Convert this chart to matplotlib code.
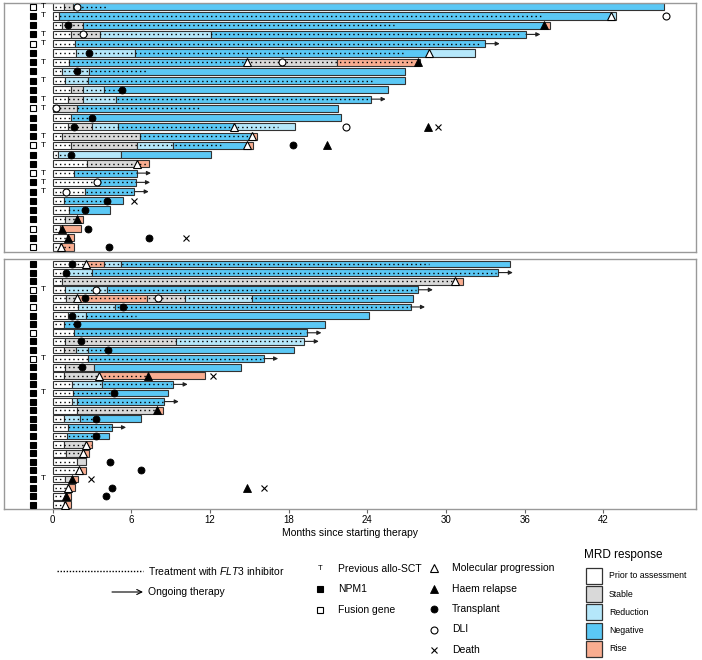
import matplotlib
matplotlib.use("Agg")
import matplotlib.pyplot as plt
from matplotlib.patches import Rectangle

plt.rcParams['font.family'] = ['Liberation Sans', 'DejaVu Sans']
plt.rcParams['mathtext.fontset'] = 'custom'
plt.rcParams['mathtext.rm'] = 'Liberation Sans'
plt.rcParams['mathtext.it'] = 'Liberation Sans:italic'

# MRD status codes: P prior, S stable, R reduction, N negative, U rise
mrd_colors = {'P': '#ffffff', 'S': '#d9d9d9', 'R': '#b5e7fa', 'N': '#5bc8f5', 'U': '#f9ad90'}
mrd_names = ['Prior to assessment', 'Stable', 'Reduction', 'Negative', 'Rise']

# ---- top panel ----
top_status = [
    "PSN", "PNR", "PSNU", "PSRN", "PN", "PRNR", "PNSU", "PRN", "PRN", "PSRN",
    "PSRN", "SN", "PN", "PSRNR", "PSNU", "PSRNU", "PRN", "PSU", "PN", "PN",
    "PN", "PN", "PN", "PSU", "PU", "PU", "PU",
]
top_ends = [
    [0.86, 1.57, 46.6], [0.5, 42.6, 43.0], [0.68, 2.29, 37.5, 37.9], [1.37, 3.6, 12.1, 36.1],
    [1.7, 33.0], [1.75, 6.3, 28.7, 32.2], [1.24, 14.8, 21.7, 28.0], [0.68, 2.77, 26.9],
    [0.94, 2.72, 26.9], [1.37, 2.34, 3.94, 25.6], [1.19, 2.34, 4.8, 24.3], [1.88, 21.8],
    [1.4, 22.0], [1.14, 2.97, 5.0, 13.8, 18.5], [0.68, 6.66, 15.1, 15.6],
    [1.4, 6.45, 9.15, 14.85, 15.3], [0.43, 5.18, 12.1], [2.59, 6.45, 7.37], [1.62, 6.4],
    [3.4, 6.33], [2.46, 6.23], [0.89, 5.39], [1.27, 4.37], [0.94, 1.88, 2.29],
    [0.56, 2.14], [1.06, 1.62], [0.56, 1.62],
]
top_flt3 = [4.2, 37.4, 26.0, 35.6, 32.7, 26.7, 27.6, 7.2, 24.4, 5.26, 24.2, 11.2, 2.97,
            17.2, 15.05, 12.9, 1.06, 7.2, 6.3, 6.2, 6.1, 4.17, 2.4, 2.2, 0.5, 1.0, 1.5]
top_arrow = [3, 4, 10, 18, 19, 20]
top_npm1 = [0, 1, 1, 1, 0, 1, 1, 1, 1, 1, 1, 0, 1, 1, 1, 0, 1, 1, 0, 1, 1, 1, 1, 1, 0, 1, 0]
top_allo = [1, 1, 0, 1, 1, 0, 1, 0, 1, 0, 1, 1, 0, 0, 1, 1, 0, 0, 1, 1, 1, 0, 0, 0, 0, 0, 0]
top_events = [
    (0, 'dli', 1.83), (1, 'mp', 42.6), (1, 'dli', 46.8), (2, 'tx', 1.19), (2, 'hr', 37.5),
    (3, 'dli', 2.34), (5, 'tx', 2.77), (5, 'mp', 28.7), (6, 'mp', 14.8), (6, 'dli', 17.5),
    (6, 'hr', 27.9), (7, 'tx', 1.83), (9, 'tx', 5.26), (11, 'dli', 0.25), (12, 'tx', 2.97),
    (13, 'tx', 1.62), (13, 'mp', 13.8), (13, 'dli', 22.4), (13, 'hr', 28.6), (13, 'death', 29.4),
    (14, 'mp', 15.2), (15, 'mp', 14.85), (15, 'tx', 18.3), (15, 'hr', 20.9), (16, 'tx', 1.4),
    (17, 'mp', 6.45), (19, 'dli', 3.4), (20, 'dli', 0.99), (21, 'tx', 4.17), (21, 'death', 6.23),
    (22, 'tx', 2.49), (23, 'hr', 1.88), (24, 'hr', 0.68), (24, 'tx', 2.72), (25, 'hr', 1.14),
    (25, 'tx', 7.35), (25, 'death', 10.2), (26, 'mp', 0.61), (26, 'tx', 4.29),
]

# ---- bottom panel ----
bot_status = [
    "PURN", "PRN", "PSU", "PRN", "PSUSRN", "PRN", "PRN", "PN", "PN", "PSR",
    "PSRN", "PN", "PSN", "PSU", "PRN", "PN", "PRN", "PSU", "PRN", "PN",
    "PN", "PSU", "PSU", "PS", "PU", "PSU", "PU", "PU", "PU",
]
bot_ends = [
    [2.54, 3.91, 5.18, 34.9], [1.01, 2.97, 34.0], [0.68, 30.7, 31.3], [0.94, 4.12, 27.9],
    [0.99, 1.88, 7.22, 10.1, 15.2, 27.5], [1.96, 4.75, 27.3], [1.19, 2.54, 24.1], [0.89, 20.8],
    [1.62, 19.4], [0.94, 9.38, 19.2], [0.86, 1.78, 2.72, 18.4], [2.72, 16.1], [0.94, 3.15, 14.4],
    [0.89, 3.56, 11.6], [1.45, 3.74, 9.2], [1.57, 8.82], [1.45, 1.88, 8.52], [1.83, 7.93, 8.39],
    [0.89, 2.08, 6.74], [1.19, 4.5], [1.06, 4.32], [0.89, 2.54, 2.97], [0.99, 2.34, 2.8],
    [1.88, 2.54], [2.0, 2.51], [0.94, 1.45, 1.9], [1.19, 1.7], [1.01, 1.4], [0.89, 1.37],
]
bot_flt3 = [28.7, 33.8, 30.7, 27.7, 24.6, 27.1, 6.35, 1.88, 19.2, 19.0, 4.24, 15.9, 2.26,
            7.3, 9.0, 4.68, 8.4, 7.9, 3.3, 4.4, 3.28, 2.9, 2.34, 1.88, 2.0, 0.9, 1.1, 1.0, 0.9]
bot_arrow = [1, 3, 5, 8, 9, 11, 14, 16, 19]
bot_npm1 = [1, 1, 1, 0, 1, 0, 1, 1, 0, 1, 1, 0, 1, 1, 1, 1, 1, 1, 1, 1, 1, 1, 1, 1, 1, 1, 1, 1, 1]
bot_allo = [0, 0, 0, 1, 0, 0, 0, 0, 0, 0, 0, 1, 0, 0, 0, 1, 0, 0, 0, 0, 0, 0, 0, 0, 0, 1, 0, 0, 0]
bot_events = [
    (0, 'tx', 1.45), (0, 'mp', 2.54), (1, 'tx', 1.05), (2, 'mp', 30.7), (3, 'dli', 3.28),
    (4, 'mp', 1.88), (4, 'tx', 2.46), (4, 'dli', 8.06), (5, 'tx', 5.39), (6, 'tx', 1.45),
    (7, 'tx', 1.88), (9, 'tx', 2.14), (10, 'tx', 4.24), (12, 'tx', 2.26), (13, 'mp', 3.56),
    (13, 'hr', 7.3), (13, 'death', 12.25), (15, 'tx', 4.68), (17, 'hr', 7.93), (18, 'tx', 3.3),
    (20, 'tx', 3.28), (21, 'mp', 2.54), (22, 'mp', 2.34), (23, 'tx', 4.37), (24, 'mp', 2.0),
    (24, 'tx', 6.71), (25, 'hr', 1.45), (25, 'death', 2.92), (26, 'mp', 1.2), (26, 'tx', 4.55),
    (26, 'hr', 14.8), (26, 'death', 16.1), (27, 'hr', 1.01), (27, 'tx', 4.04), (28, 'mp', 0.95),
]

xticks = [0, 6, 12, 18, 24, 30, 36, 42]

event_style = {
    'mp': dict(marker='^', ms=5.5, mfc='white', mec='black', mew=0.8),
    'hr': dict(marker='^', ms=5.5, mfc='black', mec='black', mew=0.6),
    'tx': dict(marker='o', ms=5, mfc='black', mec='black', mew=0.6),
    'dli': dict(marker='o', ms=5, mfc='white', mec='black', mew=0.8),
    'death': dict(marker='x', ms=5, mfc='black', mec='black', mew=0.8),
}


def draw_panel(ax, status, ends, flt3, arrows, npm1, allo, events):
    for i in range(len(status)):
        start = 0
        for code, end in zip(status[i], ends[i]):
            ax.barh(i, end - start, left=start, height=0.78, color=mrd_colors[code],
                    edgecolor='#333333', linewidth=0.8, zorder=2)
            start = end
        ax.plot([0.15, flt3[i]], [i, i], color='black', lw=1.0,
                linestyle=(0, (1, 2.2)), zorder=3)
        if i in arrows:
            ax.annotate('', xy=(start + 1.1, i), xytext=(start, i), zorder=3,
                        arrowprops=dict(arrowstyle='-|>', color='#222222', lw=0.8,
                                        mutation_scale=6, shrinkA=0, shrinkB=0))
        ax.plot(-1.5, i, marker='s', ms=4.5, mec='black', mew=0.8,
                mfc='black' if npm1[i] else 'white', zorder=3)
        if allo[i]:
            ax.text(-0.74, i, 'T', fontsize=6, ha='center', va='center')
    for row, kind, x in events:
        ax.plot(x, row, linestyle='none', zorder=4, **event_style[kind])
    for sp in ax.spines.values():
        sp.set_color('#999999')
        sp.set_linewidth(1.0)
    ax.set_xlim(-3.71, 49.07)


fig = plt.figure(figsize=(7.02, 6.60), dpi=100)
ax1 = fig.add_axes([0.0057, 0.6182, 0.9858, 0.3773])
ax2 = fig.add_axes([0.0057, 0.2288, 0.9858, 0.3788])

draw_panel(ax1, top_status, top_ends, top_flt3, top_arrow, top_npm1, top_allo, top_events)
ax1.set_ylim(26.53, -0.4)
ax1.set_xticks([])
ax1.set_yticks([])

draw_panel(ax2, bot_status, bot_ends, bot_flt3, bot_arrow, bot_npm1, bot_allo, bot_events)
ax2.set_ylim(28.49, -0.58)
ax2.set_yticks([])
ax2.set_xticks(xticks)
ax2.tick_params(axis='x', labelsize=7, length=3, width=0.8, color='#666666', pad=1.5)
ax2.set_xlabel('Months since starting therapy', fontsize=7.5, labelpad=2)

# legend drawn in pixel coordinates
lg = fig.add_axes([0, 0, 1, 1], zorder=-1)
lg.set_xlim(0, 702)
lg.set_ylim(660, 0)
lg.axis('off')

fs = 7.5
lg.plot([57, 143], [571, 571], color='black', lw=1.0, linestyle=(0, (1, 1.2)))
lg.text(148, 571, r'Treatment with $\mathit{FLT3}$ inhibitor', fontsize=fs, va='center')
lg.annotate('', xy=(143, 592), xytext=(112, 592),
            arrowprops=dict(arrowstyle='->', color='black', lw=0.8, mutation_scale=9,
                            shrinkA=0, shrinkB=0))
lg.text(148, 592, 'Ongoing therapy', fontsize=fs, va='center')

lg.text(320, 569, 'T', fontsize=5.5, ha='center', va='center')
lg.text(338, 569, 'Previous allo-SCT', fontsize=fs, va='center')
lg.plot(320, 589, marker='s', ms=4.5, mfc='black', mec='black', mew=0.8)
lg.text(338, 589, 'NPM1', fontsize=fs, va='center')
lg.plot(320, 610, marker='s', ms=4.5, mfc='white', mec='black', mew=0.8)
lg.text(338, 610, 'Fusion gene', fontsize=fs, va='center')

ev_labels = [('mp', 'Molecular progression'), ('hr', 'Haem relapse'), ('tx', 'Transplant'),
             ('dli', 'DLI'), ('death', 'Death')]
for k, (kind, label) in enumerate(ev_labels):
    yy = 568 + k * 20.5
    lg.plot(434, yy, linestyle='none', **event_style[kind])
    lg.text(452, yy, label, fontsize=fs, va='center')

lg.text(584, 555, 'MRD response', fontsize=8.5, va='center')
for k, code in enumerate('PSRNU'):
    y0 = 568 + k * 18.2
    lg.add_patch(Rectangle((586, y0), 16, 16, facecolor=mrd_colors[code],
                           edgecolor='#333333', lw=0.9))
    lg.text(609, y0 + 8, mrd_names[k], fontsize=6.3, va='center')

fig.savefig('out.png', dpi=100)
